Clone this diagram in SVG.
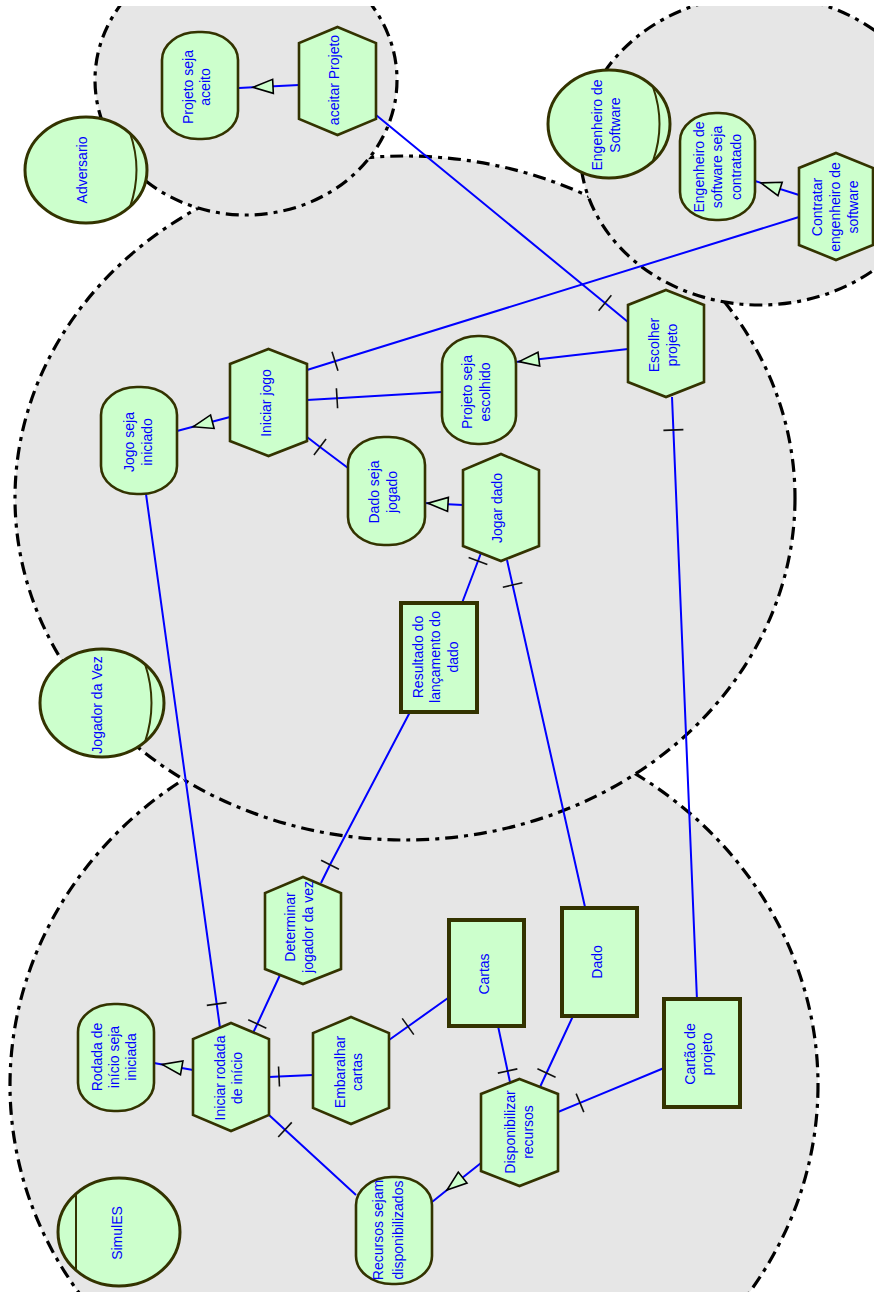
<svg xmlns="http://www.w3.org/2000/svg" width="874" height="1292" viewBox="0 0 874 1292">
  <style>
    .bd { fill: #e6e6e6; stroke: #000; stroke-width: 3.2; stroke-dasharray: 13 6 4 6; }
    .actor { fill: #ccffcc; stroke: #333300; stroke-width: 3; }
    .mark { fill: none; stroke: #333300; stroke-width: 2; }
    .task, .goal { fill: #ccffcc; stroke: #333300; stroke-width: 2.6; }
    .res { fill: #ccffcc; stroke: #333300; stroke-width: 4; }
    .lnk { fill: none; stroke: #0000ff; stroke-width: 2; }
    .t, .t tspan { font-family: "Liberation Sans", Arial, sans-serif; font-size: 14px; fill: #0000ff; text-anchor: middle; dominant-baseline: central; }
  </style>
  <defs>
    <!-- means-end arrowhead: open triangle pointing at the goal -->
    <marker id="meansEnd" markerUnits="userSpaceOnUse" viewBox="0 0 24 16" markerWidth="24" markerHeight="16" refX="22" refY="8" orient="auto" overflow="visible">
      <path d="M22,8 L2,1 L2,15 Z" fill="#ccffcc" stroke="#000" stroke-width="1.6"/>
    </marker>
    <!-- decomposition tick across the link -->
    <marker id="tick" markerUnits="userSpaceOnUse" viewBox="0 0 6 24" markerWidth="6" markerHeight="24" refX="3" refY="12" orient="auto" overflow="visible">
      <path d="M3,2 L3,22" stroke="#111" stroke-width="1.6"/>
    </marker>
  </defs>

  <rect width="874" height="1292" fill="#fff"/>

  <!-- actor boundaries -->
  <g id="boundaries">
    <ellipse id="bd-simules" class="bd" cx="414" cy="1085" rx="404" ry="372"/>
    <ellipse id="bd-jogador" class="bd" cx="405" cy="498" rx="390" ry="342"/>
    <ellipse id="bd-adversario" class="bd" cx="246" cy="80" rx="151" ry="135"/>
    <ellipse id="bd-engenheiro" class="bd" cx="760" cy="150" rx="180" ry="155"/>
    <!-- page margin along the top edge -->
    <rect x="0" y="0" width="874" height="6" fill="#fff"/>
  </g>

  <!-- actors -->
  <g id="actor-adversario">
    <ellipse class="actor" cx="86" cy="170" rx="61" ry="53"/>
    <path class="mark" d="M130,133 Q143,170 130,207"/>
    <text class="t" transform="translate(82,170) rotate(-90)">Adversario</text>
  </g>
  <g id="actor-engenheiro">
    <ellipse class="actor" cx="609" cy="124" rx="61" ry="54"/>
    <path class="mark" d="M653,87 Q666,124 653,161"/>
    <text class="t" transform="translate(606,125) rotate(-90)"><tspan x="0" y="-9">Engenheiro de</tspan><tspan x="0" y="9">Software</tspan></text>
  </g>
  <g id="actor-jogador">
    <ellipse class="actor" cx="102" cy="703" rx="62" ry="54"/>
    <path class="mark" d="M145,664 Q158,703 145,742"/>
    <text class="t" transform="translate(97,705) rotate(-90)">Jogador da Vez</text>
  </g>
  <g id="actor-simules">
    <ellipse class="actor" cx="119" cy="1232" rx="61" ry="54"/>
    <path class="mark" d="M76,1194 L76,1270"/>
    <text class="t" transform="translate(117,1233) rotate(-90)">SimulES</text>
  </g>

  <!-- connectors -->
  <g id="connectors">
    <!-- means-end links -->
    <path class="lnk" marker-mid="url(#meansEnd)" d="M299,85 L253,87.3 L239,88"/>
    <path class="lnk" marker-mid="url(#meansEnd)" d="M799,195 L761,182.9 L755,181"/>
    <path class="lnk" marker-mid="url(#meansEnd)" d="M628,349 L519,361.6 L516,362"/>
    <path class="lnk" marker-mid="url(#meansEnd)" d="M230,417 L193,426.8 L177,431"/>
    <path class="lnk" marker-mid="url(#meansEnd)" d="M463,505 L428,503.2 L425,503"/>
    <path class="lnk" marker-mid="url(#meansEnd)" d="M193,1070 L162,1064.4 L154,1063"/>
    <path class="lnk" marker-mid="url(#meansEnd)" d="M481,1163 L447,1190 L432,1202"/>
    <!-- decomposition links -->
    <path class="lnk" marker-mid="url(#tick)" d="M376,115 L605,303 L628,322"/>
    <path class="lnk" marker-mid="url(#tick)" d="M799,217 L335,361.3 L307,370"/>
    <path class="lnk" marker-mid="url(#tick)" d="M442,392 L337,398.2 L307,400"/>
    <path class="lnk" marker-mid="url(#tick)" d="M348,468 L320,447 L307,437"/>
    <path class="lnk" marker-mid="url(#tick)" d="M697,1000 L673.4,430 L672,397"/>
    <path class="lnk" marker-mid="url(#tick)" d="M462,603 L478,561 L481,553"/>
    <path class="lnk" marker-mid="url(#tick)" d="M585,907 L512.6,585 L507,560"/>
    <path class="lnk" marker-mid="url(#tick)" d="M410,712 L330,864.7 L321,883"/>
    <path class="lnk" marker-mid="url(#tick)" d="M146,494 L216.7,1004 L220,1028"/>
    <path class="lnk" marker-mid="url(#tick)" d="M280,975 L257.3,1024 L253,1033"/>
    <path class="lnk" marker-mid="url(#tick)" d="M313,1075 L279,1076.5 L269,1077"/>
    <path class="lnk" marker-mid="url(#tick)" d="M448,998 L408,1026.5 L389,1040"/>
    <path class="lnk" marker-mid="url(#tick)" d="M356,1195 L285,1129.7 L269,1115"/>
    <path class="lnk" marker-mid="url(#tick)" d="M498,1026 L507.6,1071 L510,1082"/>
    <path class="lnk" marker-mid="url(#tick)" d="M573,1016 L546.5,1073 L540,1087"/>
    <path class="lnk" marker-mid="url(#tick)" d="M664,1068 L580,1102.9 L558,1112"/>
  </g>

  <!-- Adversario elements -->
  <g id="goal-projeto-aceito">
    <rect class="goal" x="162" y="32" width="76" height="107" rx="36" ry="28"/>
    <text class="t" transform="translate(196.5,87) rotate(-90)"><tspan x="0" y="-8.5">Projeto seja</tspan><tspan x="0" y="8.5">aceito</tspan></text>
  </g>
  <g id="task-aceitar-projeto">
    <polygon class="task" points="337.5,27 376,43 376,119 337.5,135 299,119 299,43"/>
    <text class="t" transform="translate(334,80) rotate(-90)">aceitar Projeto</text>
  </g>

  <!-- Engenheiro de Software elements -->
  <g id="goal-engenheiro-contratado">
    <rect class="goal" x="680" y="113" width="75" height="107" rx="36" ry="28"/>
    <text class="t" transform="translate(717,167) rotate(-90)"><tspan x="0" y="-18.5">Engenheiro de</tspan><tspan x="0" y="0">software seja</tspan><tspan x="0" y="18.5">contratado</tspan></text>
  </g>
  <g id="task-contratar-engenheiro">
    <polygon class="task" points="836,153 873,168 873,245 836,260 799,245 799,168"/>
    <text class="t" transform="translate(835,207) rotate(-90)"><tspan x="0" y="-18">Contratar</tspan><tspan x="0" y="0">engenheiro de</tspan><tspan x="0" y="18">software</tspan></text>
  </g>

  <!-- Jogador da Vez elements -->
  <g id="task-escolher-projeto">
    <polygon class="task" points="666,290 704,305 704,382 666,397 628,382 628,305"/>
    <text class="t" transform="translate(662.5,345) rotate(-90)"><tspan x="0" y="-9">Escolher</tspan><tspan x="0" y="9">projeto</tspan></text>
  </g>
  <g id="goal-projeto-escolhido">
    <rect class="goal" x="442" y="336" width="74" height="108" rx="36" ry="28"/>
    <text class="t" transform="translate(475.5,392) rotate(-90)"><tspan x="0" y="-9">Projeto seja</tspan><tspan x="0" y="9">escolhido</tspan></text>
  </g>
  <g id="task-iniciar-jogo">
    <polygon class="task" points="268.5,349 307,364 307,441 268.5,456 230,441 230,364"/>
    <text class="t" transform="translate(266,403) rotate(-90)">Iniciar jogo</text>
  </g>
  <g id="goal-jogo-iniciado">
    <rect class="goal" x="101" y="387" width="76" height="107" rx="36" ry="28"/>
    <text class="t" transform="translate(137.5,442) rotate(-90)"><tspan x="0" y="-9">Jogo seja</tspan><tspan x="0" y="9">iniciado</tspan></text>
  </g>
  <g id="goal-dado-jogado">
    <rect class="goal" x="348" y="437" width="77" height="108" rx="36" ry="28"/>
    <text class="t" transform="translate(382.5,492) rotate(-90)"><tspan x="0" y="-9">Dado seja</tspan><tspan x="0" y="9">jogado</tspan></text>
  </g>
  <g id="task-jogar-dado">
    <polygon class="task" points="501,454 539,470 539,546 501,561 463,546 463,470"/>
    <text class="t" transform="translate(497,508) rotate(-90)">Jogar dado</text>
  </g>
  <g id="res-resultado-dado">
    <rect class="res" x="401" y="603" width="76" height="109"/>
    <text class="t" transform="translate(435,657) rotate(-90)"><tspan x="0" y="-17.5">Resultado do</tspan><tspan x="0" y="0">lançamento do</tspan><tspan x="0" y="17.5">dado</tspan></text>
  </g>

  <!-- SimulES elements -->
  <g id="task-determinar-jogador">
    <polygon class="task" points="303,877 341,893 341,969 303,984 265,969 265,893"/>
    <text class="t" transform="translate(299,927) rotate(-90)"><tspan x="0" y="-9">Determinar</tspan><tspan x="0" y="9">jogador da vez</tspan></text>
  </g>
  <g id="task-iniciar-rodada">
    <polygon class="task" points="231,1023 269,1039 269,1115 231,1131 193,1115 193,1039"/>
    <text class="t" transform="translate(228.5,1078) rotate(-90)"><tspan x="0" y="-8.5">Iniciar rodada</tspan><tspan x="0" y="8.5">de início</tspan></text>
  </g>
  <g id="goal-rodada-iniciada">
    <rect class="goal" x="78" y="1004" width="76" height="107" rx="36" ry="28"/>
    <text class="t" transform="translate(114,1057) rotate(-90)"><tspan x="0" y="-17">Rodada de</tspan><tspan x="0" y="0">início seja</tspan><tspan x="0" y="17">iniciada</tspan></text>
  </g>
  <g id="task-embaralhar-cartas">
    <polygon class="task" points="351,1017 389,1033 389,1108 351,1124 313,1108 313,1033"/>
    <text class="t" transform="translate(348.5,1072) rotate(-90)"><tspan x="0" y="-8.5">Embaralhar</tspan><tspan x="0" y="8.5">cartas</tspan></text>
  </g>
  <g id="res-cartas">
    <rect class="res" x="449" y="920" width="75" height="106"/>
    <text class="t" transform="translate(484,974) rotate(-90)">Cartas</text>
  </g>
  <g id="res-dado">
    <rect class="res" x="562" y="908" width="75" height="108"/>
    <text class="t" transform="translate(597,962) rotate(-90)">Dado</text>
  </g>
  <g id="res-cartao-projeto">
    <rect class="res" x="664" y="999" width="76" height="108"/>
    <text class="t" transform="translate(698.5,1054) rotate(-90)"><tspan x="0" y="-8.5">Cartão de</tspan><tspan x="0" y="8.5">projeto</tspan></text>
  </g>
  <g id="task-disponibilizar-recursos">
    <polygon class="task" points="519.5,1079 558,1094 558,1171 519.5,1186 481,1171 481,1094"/>
    <text class="t" transform="translate(518.5,1132) rotate(-90)"><tspan x="0" y="-9">Disponibilizar</tspan><tspan x="0" y="9">recursos</tspan></text>
  </g>
  <g id="goal-recursos-disponibilizados">
    <rect class="goal" x="356" y="1177" width="76" height="107" rx="36" ry="28"/>
    <text class="t" transform="translate(388,1230) rotate(-90)"><tspan x="0" y="-10">Recursos sejam</tspan><tspan x="0" y="10">disponibilizados</tspan></text>
  </g>
</svg>
